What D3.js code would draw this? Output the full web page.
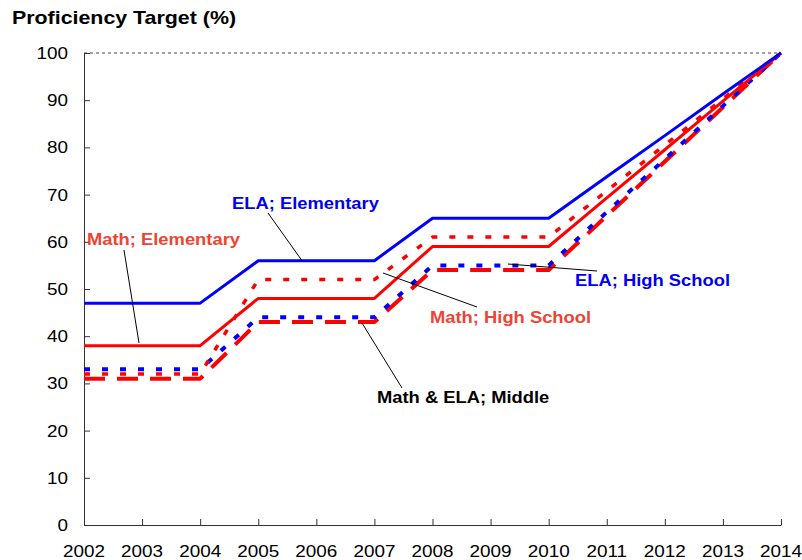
<!DOCTYPE html>
<html><head><meta charset="utf-8">
<script src="https://cdn.jsdelivr.net/npm/d3@7"></script>
<style>body{margin:0;background:#fff}svg{display:block}text{font-family:"Liberation Sans",Arial,sans-serif}</style>
</head><body><svg id="c" width="802" height="560"></svg>
<script>
const years = [2002,2003,2004,2005,2006,2007,2008,2009,2010,2011,2012,2013,2014];
const elaElementary  = [47,47,47,56,56,56,65,65,65,73.8,82.5,91.3,100];
const mathElementary = [38,38,38,48,48,48,59,59,59,69.3,79.5,89.8,100];
const mathHigh       = [32,32,32,52,52,52,61,61,61,70.8,80.5,90.3,100];
const elaHigh        = [33,33,33,44,44,44,55,55,55,66.3,77.5,88.8,100];
const middle         = [31,31,31,43,43,43,54,54,54,65.5,77,88.5,100];
const yTicks = [0,10,20,30,40,50,60,70,80,90,100];
const title = "Proficiency Target (%)";

const svg = d3.select("#c");
const x = d3.scaleLinear().domain([2002,2014]).range([84,781]);
const y = d3.scaleLinear().domain([0,100]).range([525,53]);

function stext(g, tx, ty, str, opts){
  const sx = opts.sx || 1.18;
  const t = g.append("text").attr("transform",`translate(${tx},${ty}) scale(${sx},1)`)
    .text(str).attr("font-size",opts.size||16).attr("fill",opts.fill||"#000")
    .attr("text-anchor",opts.anchor||"start");
  if(opts.bold) t.attr("font-weight","bold");
  return t;
}

// title
svg.append("text").attr("x",12).attr("y",24).attr("font-size",18.5).attr("font-weight","bold")
  .attr("textLength",224).attr("lengthAdjust","spacingAndGlyphs").text(title);

// 100 reference line
svg.append("line").attr("x1",x(2002)).attr("x2",x(2014)).attr("y1",y(100)).attr("y2",y(100))
  .attr("stroke","#444").attr("stroke-width",1).attr("stroke-dasharray","3,3");

// axes
const gx = svg.append("g").attr("transform",`translate(0,${y(0)})`)
  .call(d3.axisBottom(x).tickValues(years).tickFormat(d3.format("d")).tickSize(-6).tickSizeOuter(0));
gx.select(".domain").attr("stroke","#333");
gx.selectAll(".tick line").attr("stroke","#333");
gx.selectAll(".tick text").remove();
years.forEach(yr=>stext(svg, x(yr), 557, String(yr), {size:16, anchor:"middle"}));

const gy = svg.append("g").attr("transform",`translate(${x(2002)},0)`)
  .call(d3.axisLeft(y).tickValues(yTicks).tickSize(-6).tickSizeOuter(0));
gy.select(".domain").attr("stroke","#333");
gy.selectAll(".tick line").attr("stroke","#333");
gy.selectAll(".tick text").remove();
yTicks.forEach(v=>stext(svg, 68, y(v)+6, String(v), {size:16, anchor:"end"}));

// lines
const line = d3.line().x((d,i)=>x(years[i])).y(d=>y(d));
const series = [
  {v:middle, c:"#ff0000", w:4, dash:"21,12"},
  {v:elaHigh, c:"#0000ff", w:4, dash:"6,12"},
  {v:mathHigh, c:"#ff0000", w:3.5, dash:"6,12"},
  {v:mathElementary, c:"#ff0000", w:3, dash:null},
  {v:elaElementary, c:"#0000ff", w:3, dash:null}
];
series.forEach(s=>{
  const p = svg.append("path").datum(s.v).attr("d",line).attr("fill","none")
    .attr("stroke",s.c).attr("stroke-width",s.w).attr("stroke-linejoin","round");
  if(s.dash) p.attr("stroke-dasharray",s.dash);
});

// leader lines
const leaders = [
  [268,213,302,y(56)],
  [124,250,139,343],
  [383,273,477,307],
  [508,264,597,271],
  [362,323,402,388]
];
leaders.forEach(l=>svg.append("line").attr("x1",l[0]).attr("y1",l[1]).attr("x2",l[2]).attr("y2",l[3])
  .attr("stroke","#000").attr("stroke-width",1));

// labels
const red = "#ee4433";
const LS = 1.08;
stext(svg, 232, 209, "ELA; Elementary", {size:17, bold:true, fill:"#0000ee", sx:LS});
stext(svg, 87, 245, "Math; Elementary", {size:17, bold:true, fill:red, sx:LS});
stext(svg, 430, 323, "Math; High School", {size:17, bold:true, fill:red, sx:LS});
stext(svg, 575, 286, "ELA; High School", {size:17, bold:true, fill:"#0000ee", sx:LS});
stext(svg, 377, 403, "Math & ELA; Middle", {size:17, bold:true, fill:"#000", sx:LS});
</script></body></html>
